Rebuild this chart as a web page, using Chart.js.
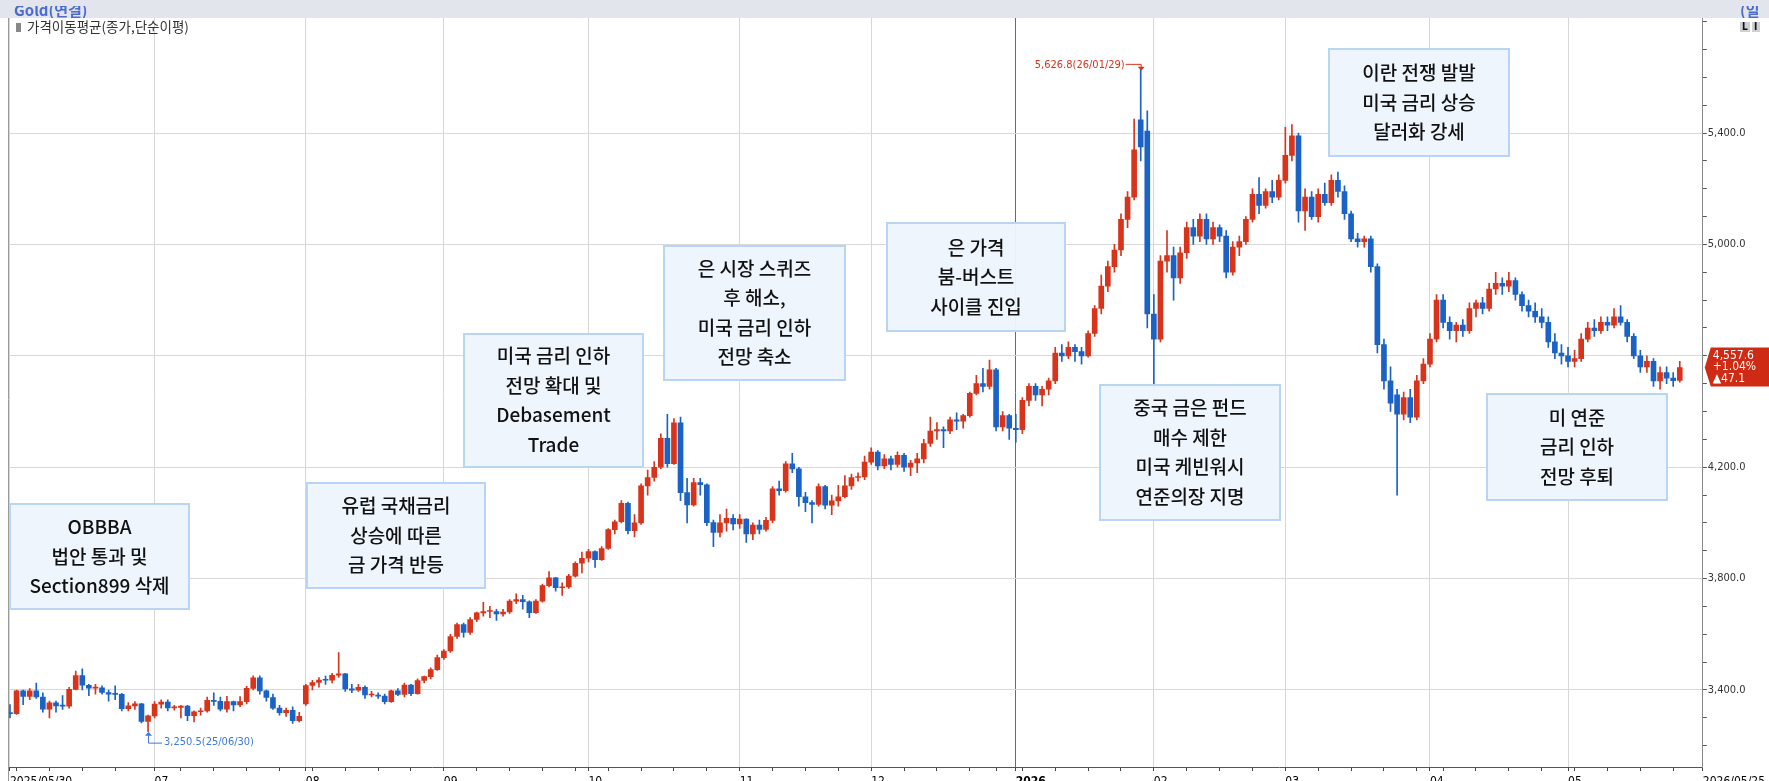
<!DOCTYPE html>
<html><head><meta charset="utf-8">
<script src="https://cdn.jsdelivr.net/npm/chart.js@4.4.1/dist/chart.umd.min.js"></script>
<style>html,body{margin:0;padding:0;background:#fff;overflow:hidden}#wrap{width:1769px;height:781px;position:relative}</style>
</head><body><div id="wrap"><canvas id="c" width="1769" height="781"></canvas></div>
<script>
// ---- data (one entry per trading day, 2025/05/30 .. 2026/05/26) ----
const opens = [
3318,3315,3397,3377,3397,3375,3331,3354,3343,3342,3402,3452,3417,3407,3408,3391,3385,3384,3333,3343,3350,3287,
3307,3349,3357,3336,3337,3342,3308,3322,3325,3363,3359,3331,3358,3346,3358,3406,3444,3397,3373,3335,3319,3327,3290,
3350,3416,3427,3436,3435,3453,3458,3404,3399,3410,3382,3382,3378,3358,3397,3384,3418,3387,3434,3448,3473,
3516,3540,3592,3635,3607,3653,3677,3682,3682,3673,3680,3719,3725,3717,3678,3719,3775,3803,3767,3770,3809,3855,
3873,3897,3868,3908,3976,4004,4070,3972,4000,4133,4163,4200,4304,4213,4359,4109,4065,4145,4137,4001,3966,4000,4016,
3996,4014,3960,3992,3977,4009,4122,4116,4212,4194,4094,4073,4066,4130,4064,4079,4094,4133,4163,4165,
4218,4254,4205,4230,4210,4243,4200,4215,4230,4285,4330,4335,4330,4370,4365,4385,4465,4500,4490,4550,4345,4385,
4340,4335,4440,4490,4460,4480,4510,4610,4600,4630,4615,4600,4680,4770,4850,4920,4980,5090,5170,5447,5407,
4750,4660,4940,4960,4880,4970,5060,5030,5090,5020,5060,5030,4900,4990,5010,5090,5180,5140,5190,5170,
5230,5320,5390,5120,5170,5100,5180,5150,5230,5190,5110,5020,5010,5020,4920,4640,4510,4460,4390,4450,4380,4510,
4570,4660,4800,4720,4690,4710,4690,4770,4790,4770,4840,4860,4850,4870,4820,4780,4760,4740,4720,4650,4610,
4600,4580,4590,4660,4700,4690,4720,4710,4740,4720,4670,4600,4560,4580,4510,4540,4520,4512
];
const highs = [
3348,3400,3400,3405,3425,3390,3360,3360,3380,3410,3468,3476,3420,3420,3415,3400,3415,3388,3355,3358,3352,3310,
3358,3365,3365,3345,3345,3345,3325,3335,3375,3390,3375,3377,3360,3376,3413,3451,3451,3400,3385,3345,3335,3340,3320,
3420,3435,3445,3450,3460,3534,3460,3420,3420,3415,3395,3390,3385,3400,3405,3425,3420,3440,3450,3480,3525,
3545,3600,3640,3640,3660,3680,3715,3700,3690,3690,3725,3745,3740,3720,3725,3780,3825,3805,3785,3815,3860,3895,
3905,3900,3915,3980,4010,4080,4075,4030,4140,4190,4220,4320,4390,4375,4380,4160,4160,4160,4140,4010,4030,4050,4030,
4030,4015,4000,4010,4020,4130,4150,4220,4250,4200,4110,4080,4140,4135,4100,4135,4170,4175,4180,4240,
4270,4260,4245,4240,4255,4250,4225,4250,4300,4380,4360,4345,4380,4395,4390,4470,4530,4555,4585,4555,4400,4390,
4390,4450,4500,4500,4490,4520,4630,4640,4650,4640,4630,4690,4780,4890,4940,5000,5110,5190,5450,5626.8,5480,
4820,4960,5050,4990,4990,5080,5090,5110,5110,5080,5070,5050,5010,5030,5100,5200,5240,5200,5230,5250,
5420,5430,5400,5200,5190,5200,5220,5250,5260,5210,5120,5040,5030,5030,4930,4660,4560,4480,4470,4480,4530,4590,
4680,4820,4820,4740,4720,4730,4790,4800,4810,4860,4900,4880,4900,4880,4830,4800,4790,4770,4740,4680,4640,
4630,4620,4680,4720,4730,4740,4740,4770,4780,4730,4680,4620,4600,4590,4560,4560,4540,4580
];
const lows = [
3300,3312,3347,3365,3370,3320,3300,3320,3330,3335,3400,3400,3380,3385,3385,3360,3365,3325,3325,3330,3282,3250.5,
3300,3335,3325,3328,3300,3290,3285,3310,3320,3345,3325,3320,3325,3340,3350,3400,3385,3360,3330,3310,3305,3280,3285,
3345,3400,3410,3420,3425,3445,3395,3390,3395,3370,3375,3370,3350,3355,3380,3375,3380,3385,3425,3440,3470,
3510,3535,3585,3590,3600,3645,3665,3660,3650,3665,3675,3710,3690,3660,3675,3715,3770,3755,3740,3765,3805,3820,
3860,3840,3865,3905,3960,4000,3960,3950,3995,4100,4150,4195,4200,4210,4080,4000,4060,4100,3990,3915,3950,3970,3975,
3980,3930,3940,3960,3970,4000,4100,4110,4180,4060,4040,4000,4060,4050,4030,4060,4090,4120,4150,4155,
4210,4190,4195,4190,4200,4185,4170,4180,4215,4275,4300,4270,4320,4335,4340,4380,4460,4470,4480,4330,4330,4300,
4290,4320,4420,4440,4420,4460,4500,4580,4590,4580,4570,4595,4670,4750,4830,4900,4960,5060,5160,5300,4700,
4480,4650,4900,4800,4860,4950,5000,5010,5000,5000,5010,4880,4890,4960,5000,5080,5110,5130,5150,5160,
5220,5300,5080,5050,5090,5080,5140,5140,5170,5090,5010,4990,4990,4900,4610,4480,4400,4100,4370,4360,4370,4500,
4560,4650,4700,4660,4650,4670,4680,4740,4750,4760,4820,4820,4830,4800,4760,4740,4720,4700,4630,4590,4570,
4560,4560,4580,4650,4670,4680,4690,4700,4710,4650,4590,4540,4540,4490,4480,4500,4490,4505
];
const closes = [
3315,3397,3377,3397,3375,3331,3354,3343,3342,3402,3452,3417,3407,3408,3391,3385,3384,3333,3343,3350,3287,3307,
3349,3357,3336,3337,3342,3308,3322,3325,3363,3359,3331,3358,3346,3358,3406,3444,3397,3373,3335,3319,3327,3290,3305,
3416,3427,3436,3435,3453,3458,3404,3399,3410,3382,3382,3378,3358,3397,3384,3418,3387,3434,3448,3473,3516,
3540,3592,3635,3607,3653,3677,3682,3682,3673,3680,3719,3725,3717,3678,3719,3775,3803,3767,3770,3809,3855,3873,
3897,3868,3908,3976,4004,4070,3972,4000,4133,4163,4200,4304,4213,4359,4109,4065,4145,4137,4001,3966,4000,4016,3996,
4014,3960,3992,3977,4009,4122,4116,4212,4194,4094,4073,4066,4130,4064,4079,4094,4133,4163,4165,4218,
4254,4205,4230,4210,4243,4200,4215,4230,4285,4330,4335,4330,4370,4365,4385,4465,4500,4490,4550,4345,4385,4340,
4335,4440,4490,4460,4480,4510,4610,4600,4630,4615,4600,4680,4770,4850,4920,4980,5090,5170,5340,5350,4750,
4660,4940,4960,4880,4970,5060,5030,5090,5020,5060,5030,4900,4990,5010,5090,5180,5140,5190,5170,5230,
5320,5390,5120,5170,5100,5180,5150,5230,5190,5110,5020,5010,5020,4920,4640,4510,4430,4390,4450,4380,4510,4570,
4660,4800,4720,4690,4710,4690,4770,4790,4770,4840,4860,4850,4870,4820,4780,4760,4740,4720,4650,4610,4600,
4580,4590,4660,4700,4690,4720,4710,4740,4720,4670,4600,4560,4580,4510,4540,4520,4510.5,4557.6
];
// ---- axis ticks ----
const monthTicks  = [0, 22, 45, 66, 88, 111, 131, 153, 174, 194, 216, 237];
const monthLabels = ['2025/05/30','07','08','09','10','11','12','2026','02','03','04','05'];
const weekTicks   = [1,6,11,16,26,31,36,41,46,51,56,61,71,76,81,86,91,96,101,106,116,121,126,136,141,146,150,154,159,164,169,179,184,189,199,204,209,214,218,223,228,233,238,243,248,253];
const endTick = 257.5, endLabel = '2026/05/25';
const yGridValues = [3400, 3800, 4200, 4600, 5000, 5400];
// ---- annotations ----
const notes = [
  {box:[9,503,190,610],   lines:['OBBBA','법안 통과 및','Section899 삭제']},
  {box:[306,482,486,589], lines:['유럽 국채금리','상승에 따른','금 가격 반등']},
  {box:[463,333,644,468], lines:['미국 금리 인하','전망 확대 및','Debasement','Trade']},
  {box:[663,245,846,381], lines:['은 시장 스퀴즈','후 해소,','미국 금리 인하','전망 축소']},
  {box:[886,222,1066,332],lines:['은 가격','붐-버스트','사이클 진입']},
  {box:[1099,384,1281,521],lines:['중국 금은 펀드','매수 제한','미국 케빈워시','연준의장 지명']},
  {box:[1328,48,1510,157],lines:['이란 전쟁 발발','미국 금리 상승','달러화 강세']},
  {box:[1486,393,1668,501],lines:['미 연준','금리 인하','전망 후퇴']}
];
const peak = {i:172, v:5626.8, text:'5,626.8(26/01/29)'};
const trough = {i:21, v:3250.5, text:'3,250.5(25/06/30)'};
const lastTag = {v:4557.6, lines:['4,557.6','+1.04%','▲47.1']};

const RED = '#d8341c', BLUE = '#1a62c6';
const idx = closes.map((_, i) => i);
const colors = idx.map(i => closes[i] >= opens[i] ? RED : BLUE);
const COND = "'DejaVu Sans Condensed','Liberation Sans Narrow','Liberation Sans',sans-serif";
const KR = "'Noto Sans CJK KR','Noto Sans',sans-serif";
const fmt = v => v.toLocaleString('en-US', {minimumFractionDigits:1, maximumFractionDigits:1});

const deco = {
  id: 'deco',
  beforeDraw(chart) {
    const c = chart.ctx; c.save(); c.fillStyle = '#fff'; c.fillRect(0, 0, chart.width, chart.height); c.restore();
  },
  afterDraw(chart) {
    const c = chart.ctx, xs = chart.scales.x, ys = chart.scales.y;
    c.save();
    // left border
    c.strokeStyle = '#9a9a9a'; c.lineWidth = 1;
    c.beginPath(); c.moveTo(8.5, 18); c.lineTo(8.5, 781); c.stroke();
    // title bar
    c.fillStyle = '#e2e5ec'; c.fillRect(0, 0, chart.width, 18);
    c.save(); c.beginPath(); c.rect(0, 6, chart.width, 12); c.clip();
    c.fillStyle = '#4a6bd0'; c.font = 'bold 15px ' + KR; c.textBaseline = 'alphabetic'; c.textAlign = 'left';
    c.fillText('Gold(연결)', 14, 16);
    c.fillText('(일', 1740, 16);
    c.restore();
    // icons
    c.fillStyle = '#d0d0d0'; c.fillRect(1740, 22, 10, 10); c.fillRect(1752, 22, 8, 10);
    c.fillStyle = '#111'; c.font = 'bold 10px ' + COND; c.textBaseline = 'middle';
    c.fillText('L', 1742, 27); c.fillText('I', 1754, 27);
    // MA legend
    c.fillStyle = '#888'; c.fillRect(16, 23, 5, 9);
    c.fillStyle = '#333'; c.font = '13.5px ' + KR; c.textBaseline = 'middle';
    c.fillText('가격이동평균(종가,단순이평)', 27, 27);
    // notes
    for (const n of notes) {
      const [x0, y0, x1, y1] = n.box;
      c.fillStyle = 'rgba(238,245,253,0.96)'; c.fillRect(x0, y0, x1 - x0, y1 - y0);
      c.strokeStyle = '#b9d5f4'; c.lineWidth = 2; c.strokeRect(x0 + 1, y0 + 1, x1 - x0 - 2, y1 - y0 - 2);
      c.fillStyle = '#111'; c.font = '500 19px ' + KR; c.textAlign = 'center'; c.textBaseline = 'middle';
      const n0 = n.lines.length, lh = 29.5, cy = (y0 + y1) / 2;
      n.lines.forEach((t, k) => c.fillText(t, (x0 + x1) / 2, cy + (k - (n0 - 1) / 2) * lh));
    }
    // peak label
    let px = xs.getPixelForValue(peak.i), py = ys.getPixelForValue(peak.v);
    c.strokeStyle = RED; c.fillStyle = RED; c.lineWidth = 1;
    c.beginPath(); c.moveTo(px - 15, py - 5.5); c.lineTo(px + 0.5, py - 5.5); c.lineTo(px + 0.5, py); c.stroke();
    c.beginPath(); c.moveTo(px - 3, py - 3); c.lineTo(px + 4, py - 3); c.lineTo(px + 0.5, py + 1); c.closePath(); c.fill();
    c.font = '11px ' + COND; c.textAlign = 'right'; c.textBaseline = 'middle';
    c.fillText(peak.text, px - 16, py - 5);
    // trough label
    px = xs.getPixelForValue(trough.i); py = ys.getPixelForValue(trough.v);
    c.strokeStyle = '#3f7ad6'; c.fillStyle = '#3f7ad6';
    c.beginPath(); c.moveTo(px + 0.5, py + 1); c.lineTo(px + 0.5, py + 11.5); c.lineTo(px + 14, py + 11.5); c.stroke();
    c.beginPath(); c.moveTo(px - 3, py + 4); c.lineTo(px + 4, py + 4); c.lineTo(px + 0.5, py); c.closePath(); c.fill();
    c.textAlign = 'left'; c.fillText(trough.text, px + 16, py + 11);
    // last price tag
    const ty = ys.getPixelForValue(lastTag.v), ax = chart.chartArea.right;
    c.fillStyle = '#cf2a14';
    c.beginPath(); c.moveTo(ax + 2, ty); c.lineTo(ax + 8, ty - 20); c.lineTo(chart.width, ty - 20);
    c.lineTo(chart.width, ty + 19); c.lineTo(ax + 8, ty + 19); c.closePath(); c.fill();
    c.fillStyle = '#fff'; c.font = '12px ' + COND; c.textAlign = 'left'; c.textBaseline = 'middle';
    lastTag.lines.forEach((t, k) => c.fillText(t, ax + 10, ty - 12 + k * 11.5));
    c.restore();
  }
};

new Chart(document.getElementById('c'), {
  type: 'bar',
  data: {
    datasets: [
      {label: 'wick', data: idx.map(i => ({x: i, y: [lows[i], highs[i]]})), backgroundColor: colors,
       barThickness: 1, grouped: false, borderWidth: 0, order: 2},
      {label: 'body', data: idx.map(i => ({x: i, y: [opens[i], closes[i]]})), backgroundColor: colors,
       barThickness: 5, grouped: false, borderWidth: 0, minBarLength: 1, order: 1}
    ]
  },
  options: {
    responsive: false, animation: false, devicePixelRatio: 1,
    layout: {padding: {left: 9, top: 18, right: 0, bottom: 0}},
    plugins: {legend: {display: false}, tooltip: {enabled: false}},
    scales: {
      x: {
        type: 'linear', min: -0.15, max: endTick, offset: false,
        afterBuildTicks: s => {
          s.ticks = [...monthTicks, ...weekTicks, endTick].sort((a, b) => a - b).map(v => ({value: v}));
        },
        afterFit: s => { s.height = 14; },
        grid: {
          offset: false, lineWidth: 1, drawTicks: true, tickLength: 4, tickColor: '#444',
          color: ctx => {
            const v = ctx.tick ? ctx.tick.value : null;
            if (v === 153) return '#ff2a2a';
            if (monthTicks.includes(v)) return '#d6d6d6';
            return 'rgba(0,0,0,0)';
          }
        },
        border: {display: true, color: '#555', width: 1},
        ticks: {
          autoSkip: false, maxRotation: 0, minRotation: 0, align: 'start', padding: 4, color: '#000',
          font: ctx => ({family: COND, size: 12, weight: (ctx.tick && ctx.tick.value === 153) ? 'bold' : 'normal'}),
          callback: v => {
            const k = monthTicks.indexOf(v);
            if (k >= 0) return monthLabels[k];
            if (v === endTick) return endLabel;
            return '';
          }
        }
      },
      y: {
        position: 'right', type: 'linear', min: 3123.5, max: 5813, beginAtZero: false,
        afterBuildTicks: s => {
          const t = []; for (let v = 3200; v <= 5800; v += 100) t.push({value: v}); s.ticks = t;
        },
        afterFit: s => { s.width = 56; },
        grid: {
          lineWidth: 1, drawTicks: true, tickLength: 4, tickColor: '#555',
          color: ctx => (ctx.tick && yGridValues.includes(ctx.tick.value)) ? '#d9d9d9' : 'rgba(0,0,0,0)'
        },
        border: {display: true, color: '#8a8a8a', width: 1},
        ticks: {
          padding: 1, color: '#333', font: {family: COND, size: 11},
          callback: v => yGridValues.includes(v) ? fmt(v) : ''
        }
      }
    }
  },
  plugins: [deco]
});
</script></body></html>
